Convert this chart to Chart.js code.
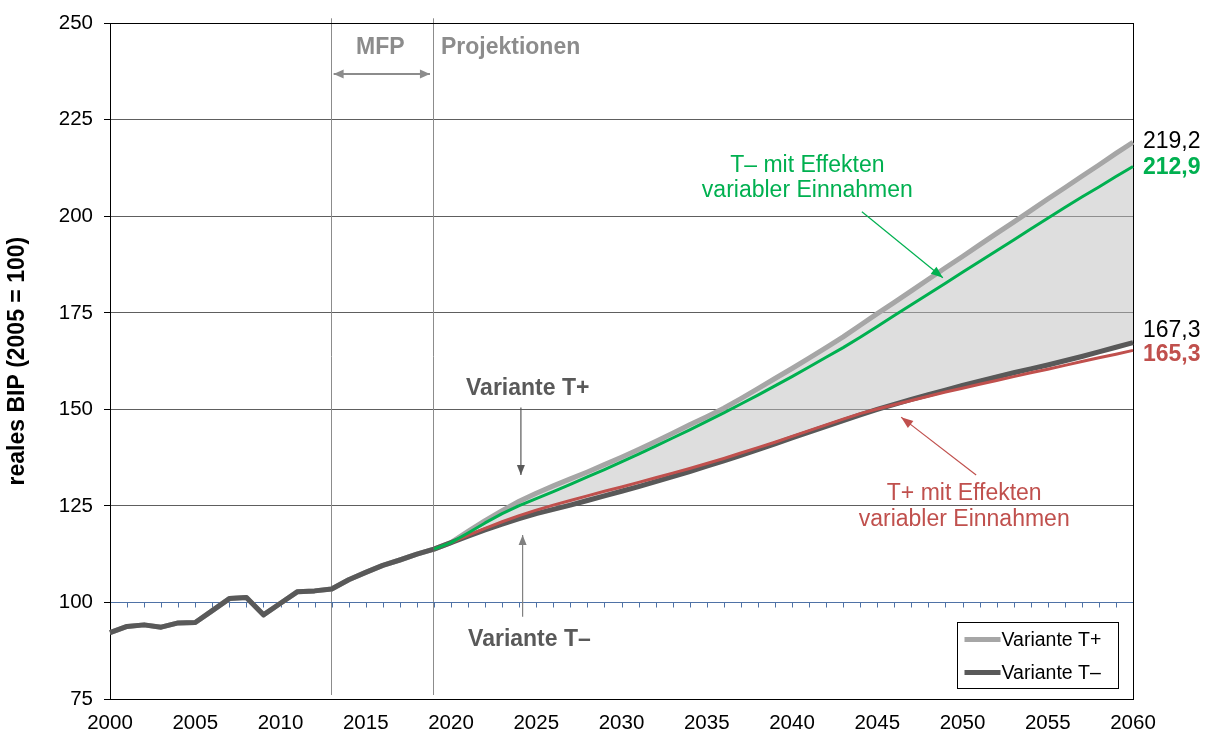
<!DOCTYPE html>
<html>
<head>
<meta charset="utf-8">
<script src="https://cdn.jsdelivr.net/npm/chart.js@4.4.1/dist/chart.umd.min.js"></script>
<style>
  body { margin: 0; background: #fff; }
  #wrap { width: 1209px; height: 738px; }
</style>
</head>
<body>
<div id="wrap"><canvas id="chart" width="1209" height="738"></canvas></div>
<script>
// categories
var years = ['2000','2001','2002','2003','2004','2005','2006','2007','2008','2009',
  '2010','2011','2012','2013','2014','2015','2016','2017','2018','2019',
  '2020','2021','2022','2023','2024','2025','2026','2027','2028','2029',
  '2030','2031','2032','2033','2034','2035','2036','2037','2038','2039',
  '2040','2041','2042','2043','2044','2045','2046','2047','2048','2049',
  '2050','2051','2052','2053','2054','2055','2056','2057','2058','2059','2060'];

// 2000-2019, observed
var observed = [92.2, 93.8, 94.2, 93.6, 94.7, 94.8, 97.9, 101.0, 101.3, 96.8,
  99.8, 102.8, 103.0, 103.5, 105.9, 107.8, 109.6, 111.0, 112.5, 113.8];

// 2020-2060 projections
var tPlus = [115.5, 118.4, 121.2, 123.8, 126.2, 128.3, 130.2, 132.0, 133.8, 135.7,
  137.6, 139.6, 141.7, 143.8, 146.0, 148.1, 150.3, 152.8, 155.4, 158.0,
  160.6, 163.3, 166.0, 168.8, 171.8, 174.8, 177.7, 180.7, 183.7, 186.7,
  189.6, 192.6, 195.6, 198.5, 201.5, 204.5, 207.4, 210.4, 213.3, 216.3, 219.2];
var tMinus = [115.5, 117.2, 118.8, 120.3, 121.7, 123.0, 124.1, 125.2, 126.4, 127.6,
  128.8, 130.0, 131.3, 132.6, 133.9, 135.3, 136.7, 138.1, 139.6, 141.1,
  142.6, 144.1, 145.6, 147.1, 148.6, 150.0, 151.3, 152.6, 153.8, 155.0,
  156.2, 157.3, 158.4, 159.5, 160.5, 161.5, 162.6, 163.7, 164.9, 166.1, 167.3];
var tPlusEff = [115.5, 117.4, 119.2, 120.9, 122.5, 123.9, 125.2, 126.4, 127.6, 128.8,
  129.9, 131.1, 132.3, 133.5, 134.7, 136.0, 137.3, 138.7, 140.1, 141.5,
  143.0, 144.5, 146.0, 147.5, 148.9, 150.1, 151.2, 152.3, 153.4, 154.5,
  155.5, 156.5, 157.5, 158.5, 159.5, 160.4, 161.4, 162.4, 163.4, 164.3, 165.3];
var tMinusEff = [115.5, 118.0, 120.6, 123.0, 125.1, 126.9, 128.7, 130.6, 132.5, 134.4,
  136.4, 138.4, 140.5, 142.6, 144.7, 146.9, 149.1, 151.4, 153.7, 156.1,
  158.5, 161.0, 163.5, 166.0, 168.7, 171.5, 174.3, 177.1, 179.9, 182.7,
  185.5, 188.3, 191.1, 193.9, 196.7, 199.5, 202.3, 205.0, 207.6, 210.3, 212.9];

var yTicks = [75, 100, 125, 150, 175, 200, 225, 250];

var FONT = "'Liberation Sans', Arial, sans-serif";
var LIGHT = '#a6a6a6', DARK = '#595959', GREEN = '#00b050', RED = '#c0504d';

function fromLastObserved(tail) {
  var out = observed.map(function (v, i) { return i === observed.length - 1 ? v : null; });
  return out.concat(tail);
}

function head(ctx, fx, fy, tx, ty, len, wid) {
  var a = Math.atan2(ty - fy, tx - fx);
  ctx.beginPath();
  ctx.moveTo(tx, ty);
  ctx.lineTo(tx - len * Math.cos(a) + wid * Math.sin(a), ty - len * Math.sin(a) - wid * Math.cos(a));
  ctx.lineTo(tx - len * Math.cos(a) - wid * Math.sin(a), ty - len * Math.sin(a) + wid * Math.cos(a));
  ctx.closePath();
  ctx.fill();
}

function arrow(ctx, x1, y1, x2, y2, color, lw, both, len, wid) {
  ctx.save();
  ctx.strokeStyle = color;
  ctx.fillStyle = color;
  ctx.lineWidth = lw;
  ctx.beginPath();
  ctx.moveTo(x1, y1);
  ctx.lineTo(x2, y2);
  ctx.stroke();
  head(ctx, x1, y1, x2, y2, len, wid);
  if (both) head(ctx, x2, y2, x1, y1, len, wid);
  ctx.restore();
}

function fmt(v) { return v.toFixed(1).replace('.', ','); }

var extras = {
  id: 'extras',
  beforeDatasetsDraw: function (chart) {
    var ctx = chart.ctx, a = chart.chartArea;
    var xs = chart.scales.x, ys = chart.scales.y;
    ctx.save();
    // MFP / projection boundaries
    ctx.strokeStyle = '#8c8c8c';
    ctx.lineWidth = 1;
    [years.indexOf('2013'), years.indexOf('2019')].forEach(function (i) {
      var x = Math.round(xs.getPixelForValue(i)) - 0.5;
      ctx.beginPath();
      ctx.moveTo(x, a.top - 5);
      ctx.lineTo(x, a.bottom - 4);
      ctx.stroke();
    });
    // category axis crossing at 100
    var y100 = Math.round(ys.getPixelForValue(100)) + 0.5;
    ctx.strokeStyle = '#4f72a6';
    ctx.beginPath();
    ctx.moveTo(a.left, y100);
    ctx.lineTo(a.right, y100);
    for (var i = 0; i < years.length; i++) {
      var x = Math.round(xs.getPixelForValue(i)) + 0.5;
      ctx.moveTo(x, y100);
      ctx.lineTo(x, y100 + 5);
    }
    ctx.stroke();
    // plot border
    ctx.strokeStyle = '#000';
    ctx.strokeRect(Math.round(a.left) + 0.5, Math.round(a.top) + 0.5,
      Math.round(a.right - a.left), Math.round(a.bottom - a.top));
    ctx.restore();
  },
  afterDatasetsDraw: function (chart) {
    var ctx = chart.ctx, a = chart.chartArea;
    var xs = chart.scales.x, ys = chart.scales.y;
    function X(year) { return xs.getPixelForValue(year - 2000); }
    function Y(v) { return ys.getPixelForValue(v); }
    ctx.save();
    ctx.textBaseline = 'middle';

    // MFP / Projektionen header
    ctx.fillStyle = '#8c8c8c';
    ctx.font = 'bold 23px ' + FONT;
    ctx.textAlign = 'center';
    ctx.fillText('MFP', X(2015.85), Y(243.6));
    ctx.textAlign = 'left';
    ctx.fillText('Projektionen', X(2019) + 7, Y(243.6));
    arrow(ctx, X(2013) + 2, Y(236.9), X(2019) - 4, Y(236.9), '#8c8c8c', 2, true, 10, 4.5);

    // Variante T+ / T−
    ctx.fillStyle = DARK;
    ctx.textAlign = 'center';
    ctx.fillText('Variante T+', X(2024.5), Y(155.5));
    ctx.fillText('Variante T\u2013', X(2024.6), Y(90.4));
    arrow(ctx, X(2024.1), Y(150.5), X(2024.1), Y(133.0), DARK, 1.2, false, 10, 4);
    arrow(ctx, X(2024.2), Y(96.3), X(2024.2), Y(117.5), '#808080', 1.2, false, 10, 4);

    // effect annotations
    ctx.font = '23px ' + FONT;
    ctx.fillStyle = GREEN;
    ctx.fillText('T\u2013 mit Effekten', X(2040.9), Y(213.1));
    ctx.fillText('variabler Einnahmen', X(2040.9), Y(206.6));
    arrow(ctx, X(2044.1), Y(201.2), X(2048.85), Y(184.1), GREEN, 1.2, false, 12, 4.5);
    ctx.fillStyle = RED;
    ctx.fillText('T+ mit Effekten', X(2050.1), Y(128.3));
    ctx.fillText('variabler Einnahmen', X(2050.1), Y(121.4));
    arrow(ctx, X(2050.8), Y(133.0), X(2046.4), Y(148.0), RED, 1.2, false, 12, 4.5);

    // end values
    var lx = a.right + 10;
    var eP = tPlus[tPlus.length - 1], eM = tMinus[tMinus.length - 1];
    var eG = tMinusEff[tMinusEff.length - 1], eR = tPlusEff[tPlusEff.length - 1];
    ctx.textAlign = 'left';
    ctx.font = '23px ' + FONT;
    ctx.fillStyle = '#000';
    ctx.fillText(fmt(eP), lx, Y(eP) - 1);
    ctx.fillText(fmt(eM), lx, Y(eM) - 12);
    ctx.font = 'bold 23px ' + FONT;
    ctx.fillStyle = GREEN;
    ctx.fillText(fmt(eG), lx, Y(eG) + 1);
    ctx.fillStyle = RED;
    ctx.fillText(fmt(eR), lx, Y(eR) + 4);

    // legend
    var bw = 161, bh = 66;
    var bx = Math.round(a.right - 15 - bw) + 0.5, by = Math.round(a.bottom - 11 - bh) + 0.5;
    ctx.fillStyle = '#fff';
    ctx.fillRect(bx, by, bw, bh);
    ctx.strokeStyle = '#000';
    ctx.lineWidth = 1;
    ctx.strokeRect(bx, by, bw, bh);
    ctx.font = '19.5px ' + FONT;
    [chart.data.datasets[0], chart.data.datasets[1]].forEach(function (ds, k) {
      var yy = by + 17 + k * 33;
      ctx.strokeStyle = ds.borderColor;
      ctx.lineWidth = 5;
      ctx.beginPath();
      ctx.moveTo(bx + 7, yy);
      ctx.lineTo(bx + 43, yy);
      ctx.stroke();
      ctx.fillStyle = '#000';
      ctx.fillText(ds.label, bx + 44, yy + 1);
    });
    ctx.restore();
  }
};

Chart.defaults.font.family = FONT;
Chart.defaults.color = '#000';

new Chart(document.getElementById('chart'), {
  type: 'line',
  data: {
    labels: years,
    datasets: [
      { label: 'Variante T+', data: observed.concat(tPlus), borderColor: LIGHT, borderWidth: 5,
        backgroundColor: 'rgba(190,190,190,0.5)', fill: '+1', order: 4 },
      { label: 'Variante T\u2013', data: observed.concat(tMinus), borderColor: DARK, borderWidth: 5,
        fill: false, order: 3 },
      { label: 'T+ mit Effekten variabler Einnahmen', data: fromLastObserved(tPlusEff), borderColor: RED,
        borderWidth: 3, fill: false, order: 2 },
      { label: 'T\u2013 mit Effekten variabler Einnahmen', data: fromLastObserved(tMinusEff), borderColor: GREEN,
        borderWidth: 3, fill: false, order: 1 }
    ]
  },
  options: {
    responsive: false,
    animation: false,
    events: [],
    layout: { padding: { top: 22, right: 76, left: 0, bottom: 0 } },
    elements: {
      point: { radius: 0 },
      line: { tension: 0, borderJoinStyle: 'round', borderCapStyle: 'butt' }
    },
    plugins: { legend: { display: false }, tooltip: { enabled: false } },
    scales: {
      x: {
        type: 'category',
        offset: false,
        grid: { display: false, drawTicks: false },
        border: { display: false },
        ticks: {
          autoSkip: false, maxRotation: 0, padding: 12,
          font: { size: 20.5 },
          callback: function (v, i) { return Number(years[i]) % 5 === 0 ? years[i] : ''; }
        },
        afterFit: function (s) { s.height = 39; }
      },
      y: {
        min: 75, max: 250,
        afterBuildTicks: function (s) { s.ticks = yTicks.map(function (v) { return { value: v }; }); },
        grid: { color: '#5e5e5e', tickColor: '#000', tickLength: 6, lineWidth: 1 },
        border: { display: true, color: '#000' },
        ticks: { padding: 11, font: { size: 20.5 } },
        title: { display: true, text: 'reales BIP (2005 = 100)', font: { size: 23, weight: 'bold' },
          padding: { top: 4, bottom: 0 } },
        afterFit: function (s) { s.width = 110; }
      }
    }
  },
  plugins: [extras]
});
</script>
</body>
</html>
